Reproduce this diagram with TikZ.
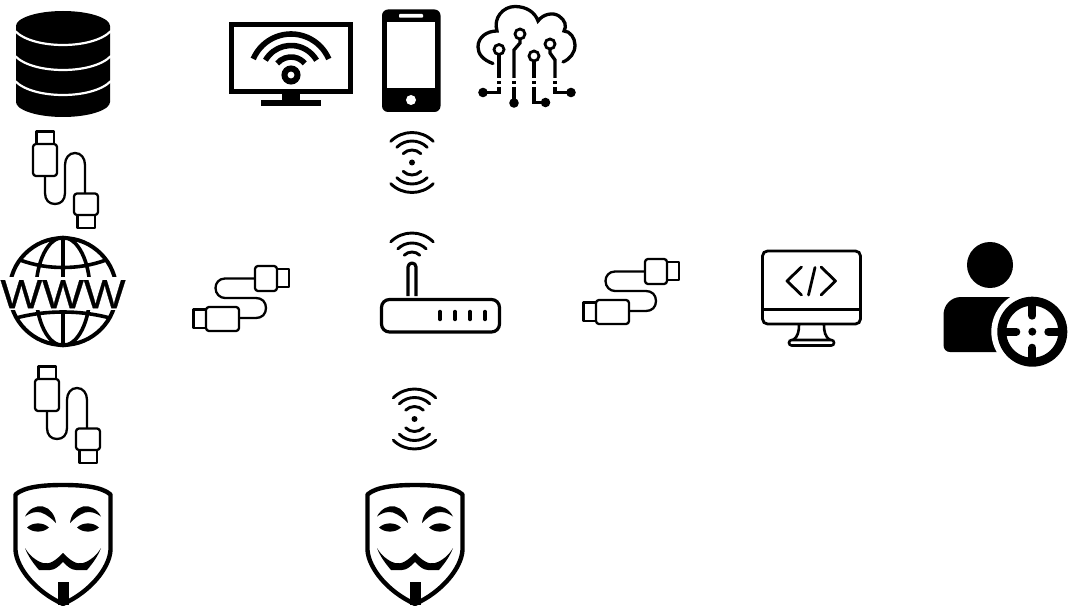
\documentclass[tikz,border=0pt]{standalone}
\usepackage{fontspec}
\setmainfont{Liberation Sans}
\tikzset{
  thinline/.style={line width=2.3pt,line join=round},
  wave/.style={line width=2.9pt,line cap=round},
  cloudline/.style={line width=3.3pt},
  iconline/.style={line width=3.2pt,line join=round}
}
\newcommand{\iconusbv}{%
    \draw[thinline,rounded corners=3pt] (33,144) rectangle (57,176);
    \draw[thinline] (36.5,144) -- (36.5,131.5) -- (54,131.5) -- (54,144);
    \draw[thinline] (45,176) -- (45,193) .. controls (45,200) and (49,204) .. (55,204) .. controls (61,204) and (65,200) .. (65,193) -- (65,165) .. controls (65,158) and (69,153) .. (75,153) .. controls (81,153) and (85,158) .. (85,165) -- (85,193);
    \draw[thinline,rounded corners=3pt] (74,193.5) rectangle (98,215);
    \draw[thinline] (77.5,215) -- (77.5,228) -- (95,228) -- (95,215);
}
\newcommand{\iconusbh}{%
    \draw[thinline,rounded corners=3pt] (255,266) rectangle (277,291);
    \draw[thinline] (277,269) -- (289,269) -- (289,287) -- (277,287);
    \draw[thinline] (255,278.5) -- (225,278.5) .. controls (219,278.5) and (215.5,283) .. (215.5,288) .. controls (215.5,294) and (220,298) .. (225,298) -- (256,298) .. controls (262,298) and (266,302) .. (266,308) .. controls (266,314) and (262,318) .. (256,318) -- (239,318);
    \draw[thinline,rounded corners=3pt] (206,307) rectangle (239,331);
    \draw[thinline] (206,309.5) -- (193.5,309.5) -- (193.5,328) -- (206,328);
}
\newcommand{\iconwaves}{%
    \fill (0,0) circle[radius=3];
    \foreach \r in {12.5,21.5,30}{
      \draw[wave] (225:\r) arc[start angle=225,end angle=315,radius=\r];
      \draw[wave] (135:\r) arc[start angle=135,end angle=45,radius=\r];
    }
}
\newcommand{\iconmask}{%
    \draw[line width=4.4pt,line join=round,fill=white] (63,485) .. controls (42,485) and (24,487) .. (15.5,494.5) -- (15.5,550) .. controls (16.5,568) and (36,592) .. (63,604) .. controls (90,592) and (109.5,568) .. (110.5,550) -- (110.5,494.5) .. controls (102,487) and (84,485) .. (63,485) -- cycle;
    \fill (57.5,582) rectangle (68.5,605);
    \foreach \sx/\ox in {1/0,-1/126}{
      \begin{scope}[shift={(\ox,0)},xscale=\sx]
        \fill (25,516.5) .. controls (29,509) and (36,505) .. (43,506.5) .. controls (50,508) and (55,515) .. (56,523) .. controls (52,519) and (47,514.5) .. (41,512.5) .. controls (35,511) and (30,513) .. (25,516.5) -- cycle;
        \fill (27,527.5) .. controls (33,522) and (43,522) .. (49,527.5) .. controls (43,533) and (33,533) .. (27,527.5) -- cycle;
        \fill (25,548) .. controls (29,555) and (36,561) .. (43,563) .. controls (50,565) and (56,560) .. (63,553) -- (63,562) .. controls (59,566) and (55,570) .. (50,570) -- (39,570) .. controls (33,563) and (28,556) .. (25,548) -- cycle;
      \end{scope}
    }
}
\begin{document}
\begin{tikzpicture}[x=1pt,y=1pt,yscale=-1]
\useasboundingbox (0,0) rectangle (1073,612);
\fill[white] (0,0) rectangle (1073,612);

% database
\fill (16,26) .. controls (16,18) and (37,11) .. (63,11) .. controls (89,11) and (110,18) .. (110,26) -- (110,102) .. controls (110,110) and (89,117) .. (63,117) .. controls (37,117) and (16,110) .. (16,102) -- cycle;
\foreach \y in {31,56,81}{
  \draw[white,line width=2.2pt] (15,\y) .. controls (25,\y+10) and (45,\y+14) .. (63,\y+14) .. controls (81,\y+14) and (101,\y+10) .. (111,\y);
}

% TV
\draw[line width=5pt] (231.5,24.5) rectangle (350.5,91.5);
\fill (282,94) rectangle (300,101);
\fill (261,100.5) rectangle (321,106);
\begin{scope}[shift={(291,75)}]
  \foreach \r/\a in {41/23,29.5/30,18/40}{
    \draw[line width=5.6pt] (180+\a:\r) arc[start angle=180+\a,end angle=360-\a,radius=\r];
  }
  \draw[line width=6pt] (0,0) circle[radius=6.5];
\end{scope}

% phone
\fill[rounded corners=6pt] (382,9.5) rectangle (440.5,112);
\fill[white] (387,22.3) rectangle (434.5,88.3);
\fill[white,rounded corners=0.8pt] (399,14) rectangle (423,17.7);
\fill[white] (411,100) circle[radius=5];

% cloud circuit
\draw[cloudline,line cap=round] (493,63.5) .. controls (483,60) and (478,54) .. (478,47) .. controls (478,37) and (487,31) .. (497,31) .. controls (493,18) and (503,6.5) .. (515,6.5) .. controls (526,6.5) and (535,12) .. (538,21) .. controls (543,14) and (553,12) .. (559,16) .. controls (565,20) and (567,26) .. (564,31) .. controls (570,31) and (575,38) .. (575,45) .. controls (575,53) and (570,59) .. (563,62);
\foreach \x/\y in {499/49.5,520/34,534/56,550/44}{
  \draw[line width=2.8pt] (\x,\y) circle[radius=5];
}
\draw[cloudline] (499,55) -- (499,78);
\draw[cloudline] (520,39.5) -- (520,43) -- (514,50) -- (514,78);
\draw[cloudline] (534,61.5) -- (534,78);
\draw[cloudline] (550,49.5) -- (550,53) -- (555,60) -- (555,78);
\foreach \x in {499,514,534,555}{
  \draw[cloudline] (\x,81) -- (\x,84);
}
\draw[cloudline] (499,87) -- (499,92.5) -- (483,92.5);
\fill (483,92.5) circle[radius=4.8];
\draw[cloudline] (514,87) -- (514,103);
\fill (514,103) circle[radius=4.8];
\draw[cloudline] (534,87) -- (534,102.5) -- (545.5,102.5);
\fill (545.5,102.5) circle[radius=4.8];
\draw[cloudline] (555,87) -- (555,92.5) -- (571,92.5);
\fill (571,92.5) circle[radius=4.8];

% USB cables
\iconusbv
\begin{scope}[shift={(2,235)}]\iconusbv\end{scope}
\iconusbh
\begin{scope}[shift={(390,-7)}]\iconusbh\end{scope}

% globe
\begin{scope}[shift={(63,291.5)}]
  \draw[line width=4pt] (0,0) circle[radius=53.5];
  \draw[line width=3.6pt] (0,0) ellipse[x radius=27,y radius=54];
  \draw[line width=3.6pt] (0,-54) -- (0,54);
  \draw[line width=3.6pt] (-43,-31.5) .. controls (-28,-26) and (-14,-24) .. (0,-24) .. controls (14,-24) and (28,-26) .. (43,-31.5);
  \draw[line width=3.6pt] (-47,26.5) .. controls (-30,22) and (-14,20.5) .. (0,20.5) .. controls (14,20.5) and (30,22) .. (47,26.5);
  \fill[white] (-63,-14.5) rectangle (63,18.5);
\end{scope}
\node[inner sep=0pt,anchor=center] (www) at (63,294.2) {\resizebox{125pt}{28pt}{\fontsize{40}{40}\selectfont\addfontfeature{FakeBold=0.6} WWW}};

% wireless waves
\begin{scope}[shift={(412,162.5)}]\iconwaves\end{scope}
\begin{scope}[shift={(414.5,419)}]\iconwaves\end{scope}

% router
\begin{scope}[shift={(412,263)}]
  \foreach \r in {11,20,30}{
    \draw[wave] (225:\r) arc[start angle=225,end angle=315,radius=\r];
  }
\end{scope}
\draw[iconline] (408,296) -- (408,267) arc[start angle=180,end angle=360,radius=4] -- (416,296);
\draw[iconline,rounded corners=8pt] (381.5,299.5) rectangle (499.5,332);
\foreach \x in {440,455,470,485}{
  \draw[line width=3.4pt,line cap=round] (\x,311.5) -- (\x,319.5);
}

% monitor
\draw[line width=2.8pt,rounded corners=5pt] (762.5,251) rectangle (860.5,324);
\draw[line width=2.8pt] (762.5,309.5) -- (860.5,309.5);
\draw[line width=2.8pt,line cap=round,line join=round] (801.5,267) -- (787,281) -- (801.5,295);
\draw[line width=2.8pt,line cap=round] (815,267.5) -- (808.5,295);
\draw[line width=2.8pt,line cap=round,line join=round] (821,267) -- (835.5,281) -- (821,295);
\draw[line width=2.6pt] (799,325) .. controls (799,331) and (798,337) .. (793,340);
\draw[line width=2.6pt] (824,325) .. controls (824,331) and (825,337) .. (830,340);
\draw[line width=2.6pt,rounded corners=2.7pt] (789,340) rectangle (834,345.5);

% person with target
\fill (990,265) circle[radius=23];
\fill (1012,297) -- (961,297) .. controls (951,297) and (943.5,305) .. (943.5,315) -- (943.5,345) .. controls (943.5,349) and (946,352) .. (950,352) -- (1005,352) -- cycle;
\fill[white] (1032.3,331.7) circle[radius=41];
\begin{scope}[shift={(1032.3,331.7)}]
  \draw[line width=9pt] (0,0) circle[radius=30.5];
  \fill (0,0) circle[radius=4];
  \foreach \a in {0,90,180,270}{
    \draw[line width=8pt,line cap=round] (\a:28) -- (\a:16);
  }
\end{scope}

% masks
\iconmask
\begin{scope}[shift={(352,0)}]\iconmask\end{scope}
\end{tikzpicture}
\end{document}
